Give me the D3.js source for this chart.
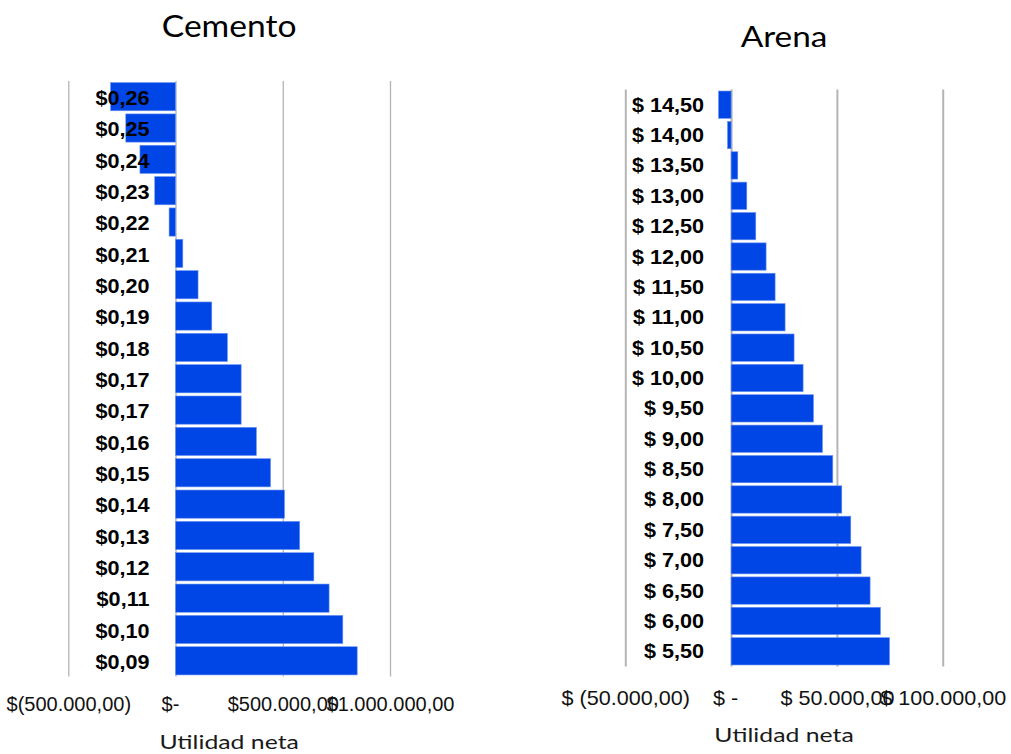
<!DOCTYPE html>
<html>
<head>
<meta charset="utf-8">
<script src="https://cdn.jsdelivr.net/npm/d3@7"></script>
<style>
  body { margin: 0; background: #fff; }
  svg { display: block; font-family: Lato, "Open Sans", sans-serif; }
  .cat text { font-weight: bold; font-size: 19.5px; fill: #000; }
  .grid text { font-size: 20px; fill: #111; white-space: pre; }
  .grid line { stroke: #b4b4b4; }
</style>
</head>
<body>
<svg id="chart" width="1011" height="754"></svg>
<script>
// Cemento: precio unitario vs utilidad neta
const cementoPrices = ["$0,26", "$0,25", "$0,24", "$0,23", "$0,22", "$0,21", "$0,20", "$0,19", "$0,18",
  "$0,17", "$0,17 ", "$0,16", "$0,15", "$0,14", "$0,13", "$0,12", "$0,11", "$0,10", "$0,09"];
const cementoUtilidad = [-303000, -232000, -166000, -97000, -30000, 34000, 105000, 169000, 242000,
  306000, 306000, 377000, 443000, 508000, 579000, 645000, 716000, 780000, 847000];
const cementoTicks = [-500000, 0, 500000, 1000000];
const cementoTickLabels = ["$(500.000,00)", "$-  ", "$500.000,00", "$1.000.000,00"];

// Arena: precio unitario vs utilidad neta
const arenaPrices = ["$ 14,50", "$ 14,00", "$ 13,50", "$ 13,00", "$ 12,50", "$ 12,00", "$ 11,50", "$ 11,00",
  "$ 10,50", "$ 10,00", "$ 9,50", "$ 9,00", "$ 8,50", "$ 8,00", "$ 7,50", "$ 7,00", "$ 6,50", "$ 6,00", "$ 5,50"];
const arenaUtilidad = [-5950, -1700, 3170, 7420, 11670, 16540, 20800, 25520, 29770, 34030,
  38940, 43190, 48060, 52320, 56570, 61440, 65690, 70600, 74860];
const arenaTicks = [-50000, 0, 50000, 100000];
const arenaTickLabels = ["$ (50.000,00)", "$ -  ", "$ 50.000,00", "$ 100.000,00"];

const BAR_FILL = "#0046e6";

// widen text horizontally around its own x anchor
function stretch(sel, sx) {
  sel.each(function () {
    var t = d3.select(this);
    var x = +t.attr("x") || 0;
    t.attr("x", x / sx).attr("transform", "scale(" + sx + ",1)");
  });
}

function drawPanel(svg, opts) {
  var g = svg.append("g");

  var x = d3.scaleLinear()
    .domain(d3.extent(opts.ticks))
    .range([opts.left, opts.right]);

  var y = d3.scaleBand()
    .domain(opts.labels)
    .range([opts.top, opts.bottom])
    .paddingInner(0.1)
    .paddingOuter(0.05);

  // vertical gridlines + value labels
  var grid = g.append("g")
    .attr("class", "grid")
    .attr("transform", "translate(0," + opts.bottom + ")")
    .call(d3.axisBottom(x)
      .tickValues(opts.ticks)
      .tickSize(-(opts.bottom - opts.top))
      .tickFormat(function (d, i) { return opts.tickLabels[i]; }));
  grid.select(".domain").remove();
  grid.selectAll("line").attr("stroke-width", opts.gridWidth);
  grid.selectAll("text").attr("y", opts.tickY - opts.bottom).attr("dy", 0);
  stretch(grid.selectAll("text"), opts.tickScale);

  // bars
  g.append("g")
    .selectAll("rect")
    .data(opts.values)
    .join("rect")
    .attr("x", function (d) { return x(Math.min(0, d)); })
    .attr("y", function (d, i) { return y(opts.labels[i]); })
    .attr("width", function (d) { return Math.abs(x(d) - x(0)); })
    .attr("height", y.bandwidth())
    .attr("fill", BAR_FILL)
    .attr("stroke", "#6d93f2")
    .attr("stroke-width", 0.6);

  // category labels, drawn over the bars
  var cat = g.append("g")
    .attr("class", "cat")
    .attr("transform", "translate(" + x(0) + ",0)")
    .call(d3.axisLeft(y).tickSize(0).tickPadding(opts.labelPad));
  cat.select(".domain").remove();
  cat.selectAll("text").attr("dy", opts.labelDy);
  stretch(cat.selectAll("text"), 1.11);

  // title
  g.append("text")
    .attr("x", (opts.left + opts.right) / 2)
    .attr("y", opts.titleY)
    .attr("text-anchor", "middle")
    .attr("font-size", opts.titleSize)
    .attr("fill", "#000")
    .text(opts.title)
    .call(stretch, opts.titleScale);

  // axis title
  g.append("text")
    .attr("x", (opts.left + opts.right) / 2)
    .attr("y", opts.axisTitleY)
    .attr("text-anchor", "middle")
    .attr("font-size", 20)
    .attr("fill", "#1a1a1a")
    .text("Utilidad neta")
    .call(stretch, 1.24);
}

var svg = d3.select("#chart");

drawPanel(svg, {
  title: "Cemento",
  labels: cementoPrices,
  values: cementoUtilidad,
  ticks: cementoTicks,
  tickLabels: cementoTickLabels,
  left: 68.3, right: 390,
  top: 81, bottom: 676.5,
  gridWidth: 1.3,
  labelPad: 26,
  labelDy: "0.42em",
  tickY: 710.5,
  tickScale: 1.0,
  titleY: 37,
  titleSize: 30,
  titleScale: 1.12,
  axisTitleY: 749
});

drawPanel(svg, {
  title: "Arena",
  labels: arenaPrices,
  values: arenaUtilidad,
  ticks: arenaTicks,
  tickLabels: arenaTickLabels,
  left: 625.3, right: 942.7,
  top: 89.5, bottom: 666.5,
  gridWidth: 2,
  labelPad: 27,
  labelDy: "0.36em",
  tickY: 705.5,
  tickScale: 1.08,
  titleY: 47,
  titleSize: 28,
  titleScale: 1.19,
  axisTitleY: 742
});
</script>
</body>
</html>
